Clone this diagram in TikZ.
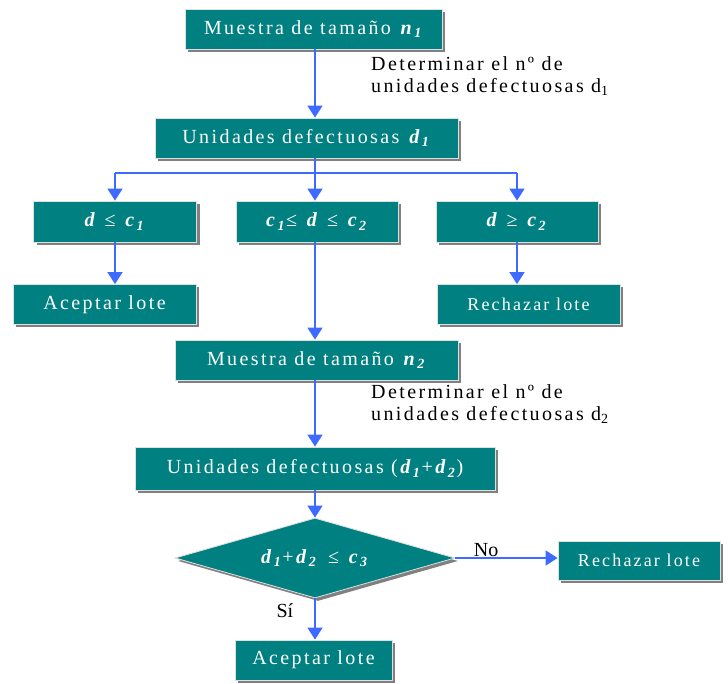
\documentclass[tikz,border=0pt]{standalone}
\usepackage{fontspec}
\setmainfont{Liberation Serif}
\newfontfamily\spaced[LetterSpace=12]{Liberation Serif}
\usetikzlibrary{arrows.meta,shapes.geometric,shadows}
\definecolor{tealbox}{HTML}{008080}
\definecolor{arrblue}{HTML}{3D6BFF}
\newcommand{\vb}[1]{\textbf{\textit{#1}}}
\newcommand{\lsub}[1]{\raisebox{-0.4ex}{\fontsize{14}{14}\selectfont\textbf{\textit{#1}}}}
\newcommand{\rsub}[1]{\raisebox{-0.4ex}{\fontsize{14}{14}\selectfont #1}}
\tikzset{
  box/.style={draw=gray!25, line width=0.8pt, fill=tealbox, text=white,
    font=\spaced\fontsize{20}{23}\selectfont, inner sep=0pt,
    drop shadow={shadow xshift=3pt, shadow yshift=-3pt, fill=gray, opacity=1}},
  flow/.style={draw=arrblue, line width=1.6pt, -{Triangle[width=15pt,length=12pt]}},
  plain/.style={draw=arrblue, line width=1.6pt},
  side/.style={font=\spaced\fontsize{20}{22}\selectfont, text=black, inner sep=0pt, align=left},
  lbl/.style={font=\fontsize{20}{21}\selectfont, text=black, inner sep=1pt}
}
\begin{document}
\begin{tikzpicture}[x=1pt,y=-1pt]
\useasboundingbox (0,0) rectangle (728,684);
\coordinate (col) at (315,0);
% boxes
\node[box, minimum width=257pt, minimum height=40pt] (m1) at (313.5,29) {Muestra de tamaño \vb{n}\lsub{1}};
\node[box, minimum width=303pt, minimum height=40pt] (u1) at (306.5,138) {Unidades defectuosas \vb{d}\lsub{1}};
\node[box, minimum width=163pt, minimum height=41pt] (b1) at (115,221.5) {\vb{d} ≤ \vb{c}\lsub{1}};
\node[box, minimum width=162pt, minimum height=41pt] (b2) at (317,221.5) {\vb{c}\lsub{1}≤ \vb{d} ≤ \vb{c}\lsub{2}};
\node[box, minimum width=162pt, minimum height=41pt] (b3) at (517,221.5) {\vb{d} ≥ \vb{c}\lsub{2}};
\node[box, minimum width=183pt, minimum height=40pt] (a1) at (104.5,304.5) {Aceptar lote\hspace{12pt}};
\node[box, minimum width=183pt, minimum height=40pt, font=\spaced\fontsize{18}{20}\selectfont] (r1) at (528.5,304.5) {Rechazar lote\hspace{10pt}};
\node[box, minimum width=283pt, minimum height=40pt] (m2) at (316.5,360) {Muestra de tamaño \vb{n}\lsub{2}};
\node[box, minimum width=360pt, minimum height=43pt] (u2) at (315,468.5) {Unidades defectuosas (\vb{d}\lsub{1}+\vb{d}\lsub{2})};
\node[box, diamond, aspect=3.5, minimum width=280pt, minimum height=80pt] (dia) at (315,558) {\vb{d}\lsub{1}+\vb{d}\lsub{2} \,≤ \vb{c}\lsub{3}};
\node[box, minimum width=162pt, minimum height=39pt, font=\spaced\fontsize{18}{20}\selectfont] (r2) at (639,560.5) {Rechazar lote};
\node[box, minimum width=157pt, minimum height=40pt] (a2) at (313.5,660) {Aceptar lote};
% side texts
\node[side, anchor=north west] (t1) at (371,56) {Determinar el nº de\\unidades defectuosas d\rsub{1}};
\node[side, anchor=north west] (t2) at (371,384) {Determinar el nº de\\unidades defectuosas d\rsub{2}};
% connectors
\coordinate (br) at (315,173);
\draw[flow] (col |- m1.south) -- (col |- u1.north);
\draw[plain] (col |- u1.south) -- (br);
\draw[plain] (b1.north |- br) -- (b3.north |- br);
\draw[flow] (b1.north |- br) -- (b1.north);
\draw[flow] (br) -- (col |- b2.north);
\draw[flow] (b3.north |- br) -- (b3.north);
\draw[flow] (b1.south) -- (b1.south |- a1.north);
\draw[flow] (b3.south) -- (b3.south |- r1.north);
\draw[flow] (col |- b2.south) -- (col |- m2.north);
\draw[flow] (col |- m2.south) -- (col |- u2.north);
\draw[flow] (col |- u2.south) -- (dia.north);
\draw[flow] (dia.east) -- (dia.east -| r2.west) node[lbl, pos=0.3, above] (no) {No};
\draw[flow] (dia.south) -- (col |- a2.north) node[lbl, pos=0.3, left=20pt] (si) {Sí};
\end{tikzpicture}
\end{document}
